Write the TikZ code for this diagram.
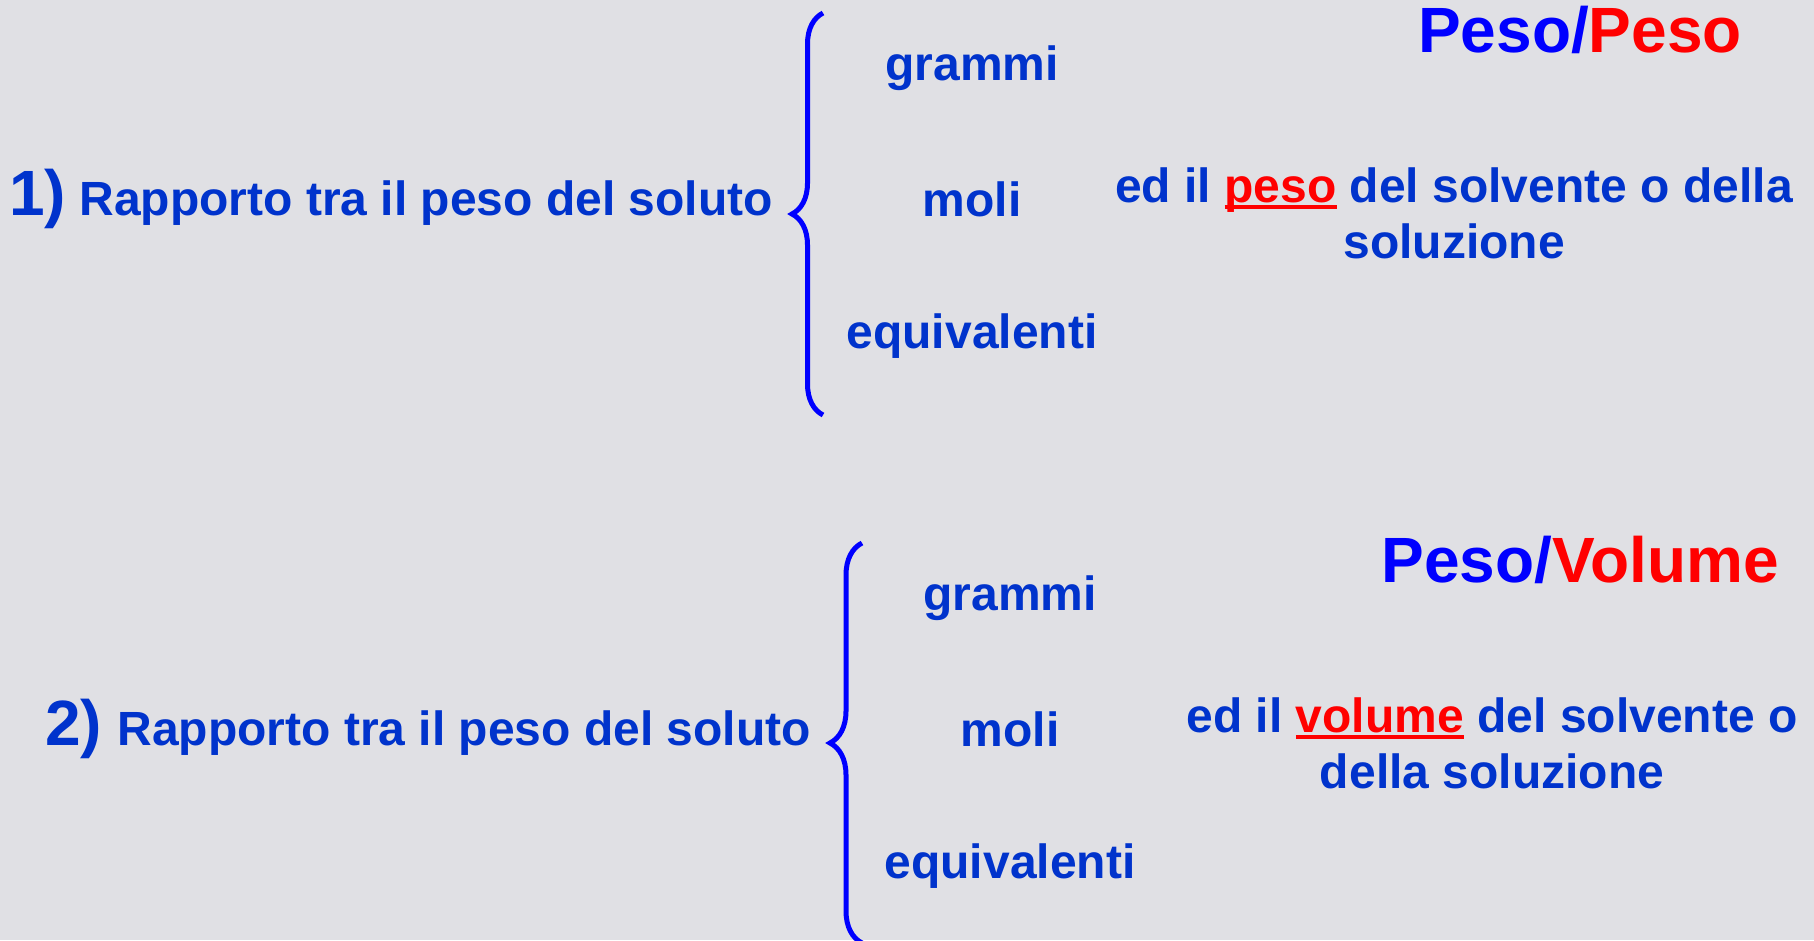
\documentclass[tikz,border=0pt]{standalone}
\usepackage{fontspec}
\setmainfont{Liberation Sans}
\usepackage{xcolor}
\usetikzlibrary{positioning, decorations.pathreplacing}
\definecolor{slidebg}{RGB}{224,224,228}
\definecolor{textblue}{RGB}{0,51,204}
\definecolor{headblue}{RGB}{0,0,255}
\definecolor{headred}{RGB}{255,0,0}
\newcommand\redul[1]{\textcolor{headred}{\setbox0\hbox{#1}\rlap{\rule[-7pt]{\wd0}{4pt}}\box0}}
\tikzset{
  numlabel/.style={
    inner sep=0pt, text=textblue,
    font=\fontsize{64}{72}\selectfont\bfseries
  },
  bodytext/.style={
    inner sep=0pt, text=textblue,
    font=\fontsize{48}{56}\selectfont\bfseries
  },
  headtext/.style={
    inner sep=0pt,
    font=\fontsize{64}{72}\selectfont\bfseries
  },
  bracket/.style={
    draw=headblue, line width=5pt,
    decorate, decoration={brace, amplitude=#1}
  }
}

\begin{document}
\begin{tikzpicture}[x=1pt, y=-1pt]
  \useasboundingbox (0,0) rectangle (1814,940);
  \fill[slidebg] (0,0) rectangle (1814,940);
  \clip (0,0) rectangle (1814,940);

  % first block
  \node[numlabel, anchor=base west] (n1) at (9,215) {1)};
  \node[bodytext, base right=13pt of n1] (r1) {Rapporto tra il peso del soluto};
  \coordinate (b1top) at (823,13);
  \coordinate (b1bot) at (823,415);
  \draw[bracket=31pt] (b1bot) -- (b1top);
  \node[bodytext, anchor=base] (g1) at (972,80) {grammi};
  \node[bodytext, anchor=base] (m1) at (972,216) {moli};
  \node[bodytext, anchor=base] (e1) at (972,348) {equivalenti};
  \node[headtext, anchor=base] (h1) at (1580,52)
    {\textcolor{headblue}{Peso/}\textcolor{headred}{Peso}};
  \node[bodytext, anchor=base] (d1) at (1454,202)
    {ed il \redul{peso} del solvente o della};
  \node[bodytext, anchor=base] (d1b) at (1454,258) {soluzione};

  % second block
  \node[numlabel, anchor=base west] (n2) at (45,745) {2)};
  \node[bodytext, base right=15pt of n2] (r2) {Rapporto tra il peso del soluto};
  \coordinate (b2top) at (862,543);
  \coordinate (b2bot) at (862,943);
  \draw[bracket=32pt] (b2bot) -- (b2top);
  \node[bodytext, anchor=base] (g2) at (1010,610) {grammi};
  \node[bodytext, anchor=base] (m2) at (1010,746) {moli};
  \node[bodytext, anchor=base] (e2) at (1010,878) {equivalenti};
  \node[headtext, anchor=base] (h2) at (1580,582)
    {\textcolor{headblue}{Peso/}\textcolor{headred}{Volume}};
  \node[bodytext, anchor=base] (d2) at (1492,732)
    {ed il \redul{volume} del solvente o};
  \node[bodytext, anchor=base] (d2b) at (1492,788) {della soluzione};
\end{tikzpicture}
\end{document}
